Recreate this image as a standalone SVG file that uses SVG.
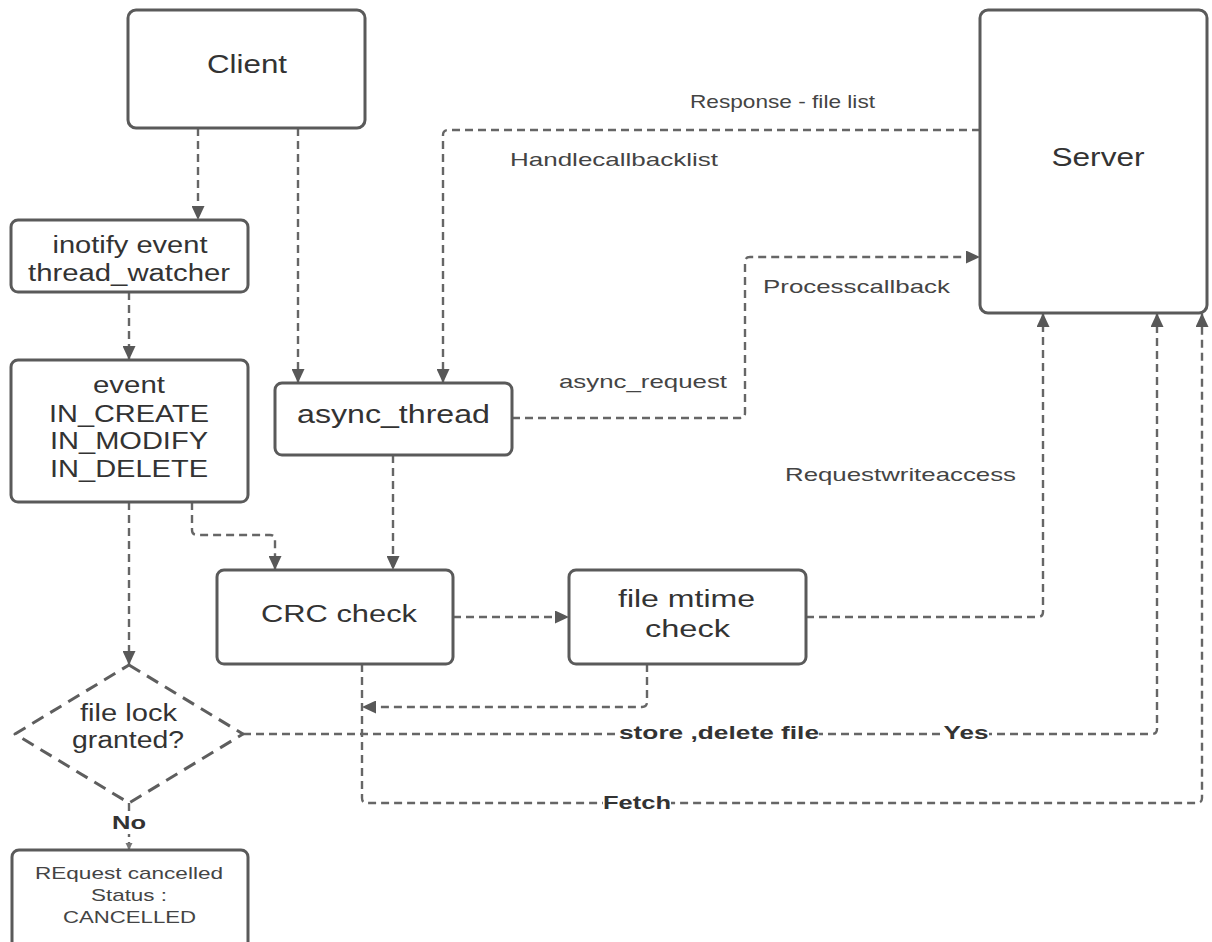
<svg xmlns="http://www.w3.org/2000/svg" width="1212" height="942" viewBox="0 0 1212 942">
<style>
.box{fill:#fff;stroke:#5a5a5a;stroke-width:3}
.dia{fill:#fff;stroke:#5e5e5e;stroke-width:3;stroke-dasharray:13 8}
.con{fill:none;stroke:#666;stroke-width:2.4;stroke-dasharray:8 5}
.t{font-family:"Liberation Sans",Arial,sans-serif;fill:#333;text-anchor:middle}
.n{font-size:23px}
.b{font-size:25px}
.l{font-size:19px;fill:#444}
.s{font-size:17px;fill:#444}
.bl{font-size:19px;font-weight:bold;fill:#333}
</style>
<defs>
<marker id="ah" markerUnits="userSpaceOnUse" markerWidth="15" markerHeight="13" refX="14" refY="6.5" orient="auto">
<path d="M0,0 L14,6.5 L0,13 z" fill="#585858"/>
</marker>
<marker id="ahs" markerUnits="userSpaceOnUse" markerWidth="8" markerHeight="8" refX="7" refY="3.5" orient="auto">
<path d="M0,0 L7,3.5 L0,7 z" fill="#777"/>
</marker>
</defs>
<rect width="1212" height="942" fill="#fff"/>
<g id="connectors">
<path class="con" d="M198,128 V220" marker-end="url(#ah)"/>
<path class="con" d="M298,128 V383" marker-end="url(#ah)"/>
<path class="con" d="M129,292 V360" marker-end="url(#ah)"/>
<path class="con" d="M129,502 V665" marker-end="url(#ah)"/>
<path class="con" d="M192,502 V530 Q192,535 197,535 H270 Q275,535 275,540 V570" marker-end="url(#ah)"/>
<path class="con" d="M393,455 V570" marker-end="url(#ah)"/>
<path class="con" d="M453,617 H569" marker-end="url(#ah)"/>
<path class="con" d="M647,664 V702 Q647,707 642,707 H362" marker-end="url(#ah)"/>
<path class="con" d="M980,130 H448 Q443,130 443,135 V383" marker-end="url(#ah)"/>
<path class="con" d="M512,418 H740 Q745,418 745,413 V262 Q745,257 750,257 H980" marker-end="url(#ah)"/>
<path class="con" d="M806,617 H1038 Q1043,617 1043,612 V313" marker-end="url(#ah)"/>
<path class="con" d="M243,734 H1152 Q1157,734 1157,729 V313" marker-end="url(#ah)"/>
<path class="con" d="M362,664 V798 Q362,803 367,803 H1197 Q1202,803 1202,798 V313" marker-end="url(#ah)"/>
<path class="con" d="M129,803 V850" stroke-width="1.5" stroke-dasharray="3 3" marker-end="url(#ahs)"/>
<text class="t l" x="782.5" y="108" textLength="185" lengthAdjust="spacingAndGlyphs">Response - file list</text>
<text class="t l" x="614" y="166" textLength="208" lengthAdjust="spacingAndGlyphs">Handlecallbacklist</text>
<text class="t l" x="856.5" y="293" textLength="187" lengthAdjust="spacingAndGlyphs">Processcallback</text>
<text class="t l" x="643" y="388" textLength="168" lengthAdjust="spacingAndGlyphs">async_request</text>
<text class="t l" x="900.5" y="481" textLength="231" lengthAdjust="spacingAndGlyphs">Requestwriteaccess</text>
<rect x="619" y="722" width="200" height="22" fill="#fff"/>
<text class="t bl" x="719" y="739" textLength="200" lengthAdjust="spacingAndGlyphs">store ,delete file</text>
<rect x="943" y="722" width="46" height="22" fill="#fff"/>
<text class="t bl" x="966" y="739" textLength="45" lengthAdjust="spacingAndGlyphs">Yes</text>
<rect x="603" y="792" width="68" height="22" fill="#fff"/>
<text class="t bl" x="637" y="809" textLength="68" lengthAdjust="spacingAndGlyphs">Fetch</text>
<rect x="110" y="812" width="38" height="22" fill="#fff"/>
<text class="t bl" x="129" y="829" textLength="34" lengthAdjust="spacingAndGlyphs">No</text>
</g>
<g id="client">
<rect class="box" x="128" y="10" width="237" height="118" rx="8"/>
<text class="t b" x="247" y="73" textLength="80" lengthAdjust="spacingAndGlyphs">Client</text>
</g>
<g id="server">
<rect class="box" x="980" y="10" width="227" height="303" rx="8"/>
<text class="t b" x="1098" y="166" textLength="93" lengthAdjust="spacingAndGlyphs">Server</text>
</g>
<g id="inotify">
<rect class="box" x="11" y="220" width="237" height="72" rx="7"/>
<text class="t n" x="130" y="253" textLength="155" lengthAdjust="spacingAndGlyphs">inotify event</text>
<text class="t n" x="129" y="281" textLength="202" lengthAdjust="spacingAndGlyphs">thread_watcher</text>
</g>
<g id="event">
<rect class="box" x="11" y="360" width="237" height="142" rx="7"/>
<text class="t n" x="129" y="393" textLength="72" lengthAdjust="spacingAndGlyphs">event</text>
<text class="t n" x="129" y="422" textLength="160" lengthAdjust="spacingAndGlyphs">IN_CREATE</text>
<text class="t n" x="129" y="449" textLength="158" lengthAdjust="spacingAndGlyphs">IN_MODIFY</text>
<text class="t n" x="129" y="477" textLength="158" lengthAdjust="spacingAndGlyphs">IN_DELETE</text>
</g>
<g id="async_thread">
<rect class="box" x="275" y="383" width="237" height="72" rx="7"/>
<text class="t b" x="393.5" y="423" textLength="193" lengthAdjust="spacingAndGlyphs">async_thread</text>
</g>
<g id="crc">
<rect class="box" x="217" y="570" width="236" height="94" rx="7"/>
<text class="t n" x="339" y="622" textLength="156" lengthAdjust="spacingAndGlyphs">CRC check</text>
</g>
<g id="mtime">
<rect class="box" x="569" y="570" width="237" height="94" rx="7"/>
<text class="t n" x="686.5" y="607" textLength="137" lengthAdjust="spacingAndGlyphs">file mtime</text>
<text class="t n" x="687.5" y="637" textLength="85" lengthAdjust="spacingAndGlyphs">check</text>
</g>
<g id="filelock">
<path class="dia" d="M129,665 L243,734 L129,803 L15,734 Z" stroke-linejoin="round"/>
<text class="t n" x="128.5" y="721" textLength="97" lengthAdjust="spacingAndGlyphs">file lock</text>
<text class="t n" x="128" y="748" textLength="112" lengthAdjust="spacingAndGlyphs">granted?</text>
</g>
<g id="cancelled">
<rect class="box" x="12" y="850" width="236" height="100" rx="7"/>
<text class="t s" x="129" y="879" textLength="188" lengthAdjust="spacingAndGlyphs">REquest cancelled</text>
<text class="t s" x="129" y="901" textLength="76" lengthAdjust="spacingAndGlyphs">Status :</text>
<text class="t s" x="129.5" y="923" textLength="133" lengthAdjust="spacingAndGlyphs">CANCELLED</text>
</g>
</svg>
